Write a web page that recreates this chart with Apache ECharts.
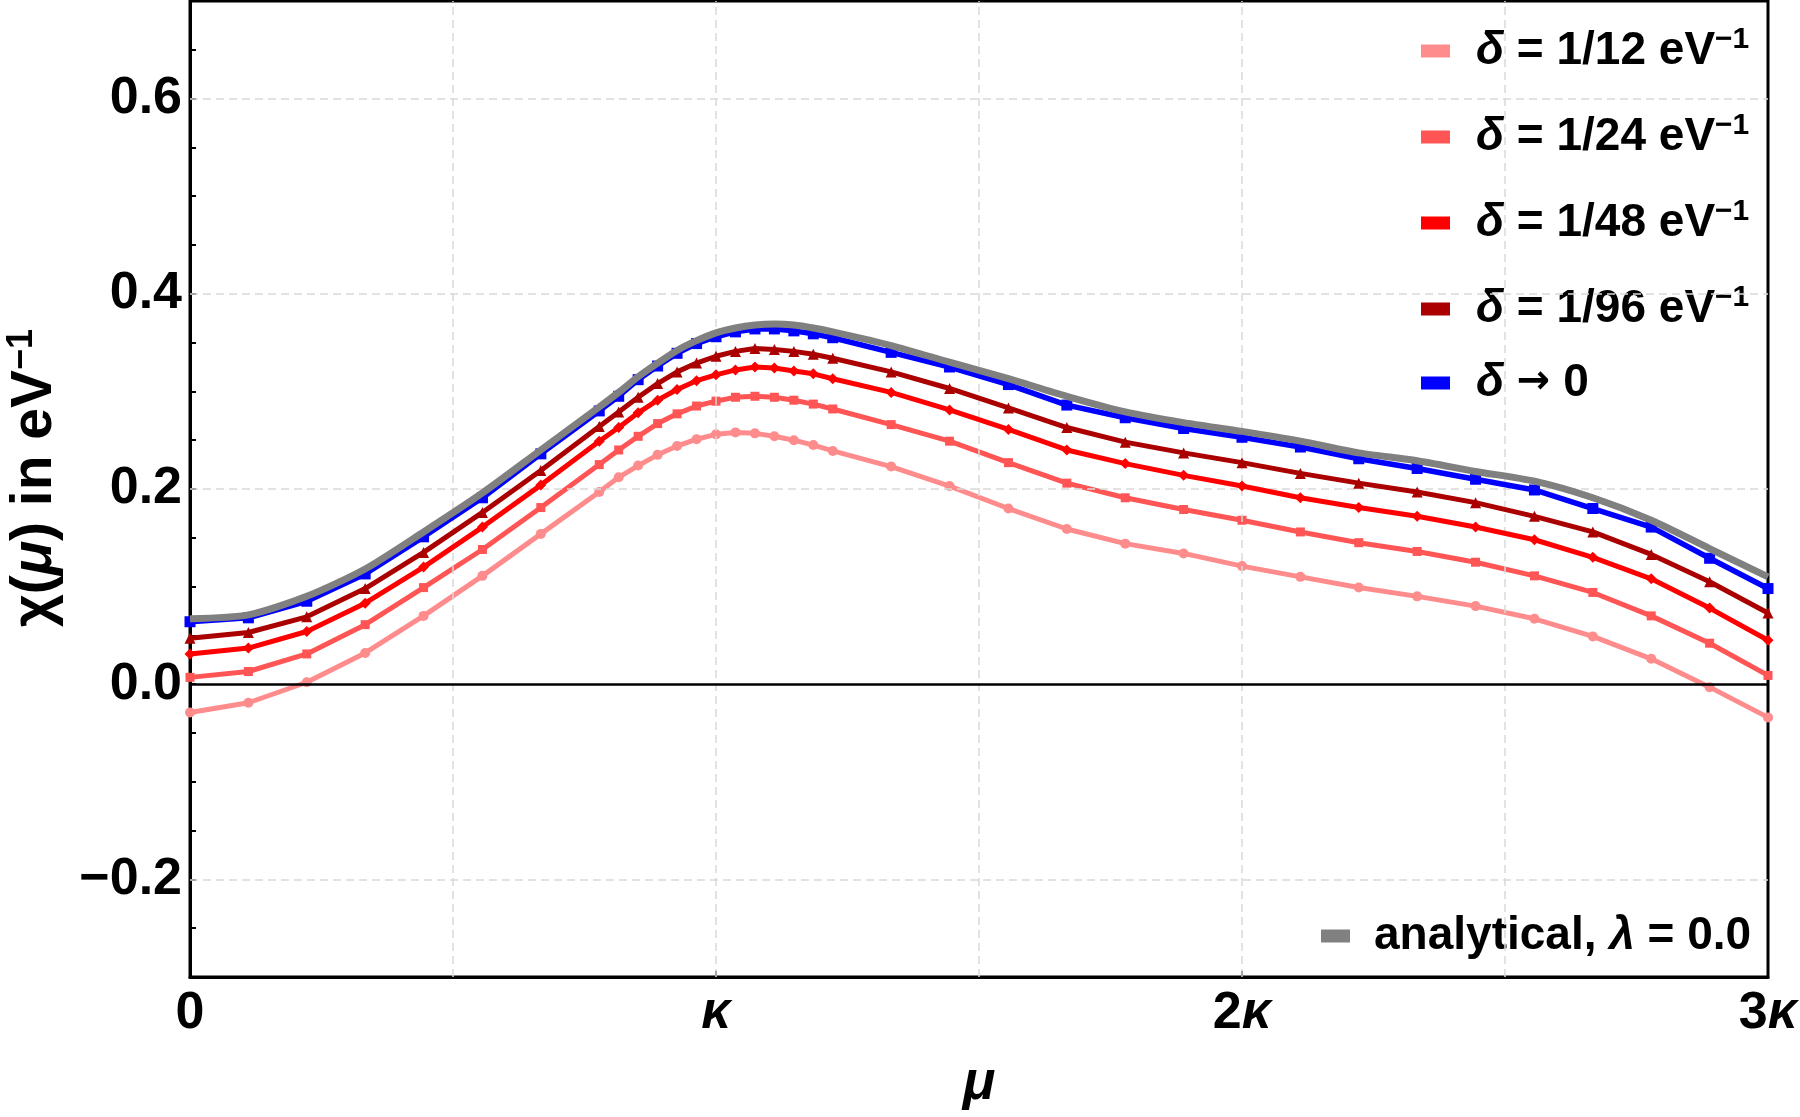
<!DOCTYPE html>
<html>
<head>
<meta charset="utf-8">
<title>chi(mu)</title>
<script src="https://cdn.jsdelivr.net/npm/echarts@6/dist/echarts.min.js"></script>
<style>
  html, body { margin: 0; padding: 0; background: #fff; }
  #chart { width: 1800px; height: 1117px; }
</style>
</head>
<body>
<div id="chart"></div>
<script>
// mu in units of kappa
var muValues = [0, 0.111, 0.222, 0.333, 0.444, 0.556, 0.667, 0.778,
  0.815, 0.852, 0.889, 0.926, 0.963, 1.0, 1.037, 1.074, 1.111, 1.148, 1.185, 1.222,
  1.333, 1.444, 1.556, 1.667, 1.778, 1.889, 2.0, 2.111, 2.222, 2.333, 2.444, 2.556,
  2.667, 2.778, 2.889, 3.0];

var chiDelta12 = [-0.029, -0.019, 0.002, 0.032, 0.070, 0.111, 0.154, 0.197,
  0.212, 0.224, 0.235, 0.244, 0.251, 0.256, 0.258, 0.257, 0.254, 0.250, 0.245, 0.239,
  0.223, 0.203, 0.180, 0.159, 0.144, 0.134, 0.121, 0.110, 0.099, 0.090, 0.080, 0.067,
  0.049, 0.026, -0.003, -0.034];

var chiDelta24 = [0.007, 0.013, 0.031, 0.061, 0.099, 0.138, 0.181, 0.225,
  0.240, 0.254, 0.267, 0.277, 0.285, 0.290, 0.294, 0.295, 0.294, 0.291, 0.287, 0.282,
  0.266, 0.249, 0.227, 0.206, 0.191, 0.179, 0.168, 0.156, 0.145, 0.136, 0.125, 0.111,
  0.094, 0.070, 0.042, 0.009];

var chiDelta48 = [0.031, 0.037, 0.054, 0.083, 0.120, 0.161, 0.204, 0.249,
  0.263, 0.278, 0.291, 0.302, 0.311, 0.317, 0.322, 0.325, 0.324, 0.321, 0.318, 0.313,
  0.299, 0.281, 0.261, 0.240, 0.226, 0.214, 0.203, 0.191, 0.181, 0.172, 0.161, 0.148,
  0.130, 0.108, 0.078, 0.045];

var chiDelta96 = [0.047, 0.053, 0.069, 0.098, 0.135, 0.176, 0.219, 0.264,
  0.279, 0.294, 0.308, 0.320, 0.329, 0.336, 0.341, 0.344, 0.343, 0.341, 0.338, 0.334,
  0.320, 0.303, 0.283, 0.263, 0.248, 0.237, 0.227, 0.216, 0.206, 0.197, 0.186, 0.172,
  0.156, 0.133, 0.105, 0.073];

var chiDelta0 = [0.064, 0.068, 0.085, 0.113, 0.151, 0.191, 0.236, 0.280,
  0.295, 0.312, 0.326, 0.339, 0.349, 0.356, 0.361, 0.364, 0.364, 0.362, 0.359, 0.355,
  0.340, 0.325, 0.307, 0.286, 0.273, 0.262, 0.253, 0.243, 0.231, 0.221, 0.210, 0.199,
  0.180, 0.161, 0.129, 0.098];

var chiAnalytical = [0.067, 0.071, 0.090, 0.118, 0.156, 0.196, 0.240, 0.284,
  0.299, 0.315, 0.329, 0.342, 0.352, 0.360, 0.365, 0.368, 0.369, 0.368, 0.365, 0.361,
  0.347, 0.330, 0.313, 0.295, 0.279, 0.268, 0.259, 0.249, 0.237, 0.229, 0.218, 0.208,
  0.191, 0.168, 0.139, 0.110];

var xGridValues = [0.5, 1, 1.5, 2, 2.5];
var yGridValues = [0.6, 0.4, 0.2, -0.2];

var FONT = '"Liberation Sans", Arial, sans-serif';

function pairs(ys) {
  return muValues.map(function (x, i) { return [x, ys[i]]; });
}

var legendText = {
  'd12': '{g| }{i|δ} = 1/12 eV{s|−1}',
  'd24': '{g| }{i|δ} = 1/24 eV{s|−1}',
  'd48': '{g| }{i|δ} = 1/48 eV{s|−1}',
  'd96': '{g| }{i|δ} = 1/96 eV{s|−1}',
  'd0': '{g| }{i|δ} {a|→} 0',
  'analytical': '{g3| }analytical, {i|λ} = 0.0'
};

var myChart = echarts.init(document.getElementById('chart'));

var gridLineStyle = { color: '#d9d9d9', width: 1.5, type: [8, 5] };
var markData = [];
for (var i = 0; i < yGridValues.length; i++) {
  markData.push({ yAxis: yGridValues[i], lineStyle: gridLineStyle });
}
for (var j = 0; j < xGridValues.length; j++) {
  markData.push({ xAxis: xGridValues[j], lineStyle: gridLineStyle });
}
markData.push({ yAxis: 0, lineStyle: { color: '#000', width: 2.5, type: 'solid' } });

function dataSeries(name, ys, color, symbol, size, width, z) {
  return {
    name: name,
    type: 'line',
    data: pairs(ys),
    z: z,
    symbol: symbol,
    symbolSize: size,
    showSymbol: true,
    lineStyle: { color: color, width: width },
    itemStyle: { color: color },
    emphasis: { disabled: true }
  };
}

var legendRich = {
  g: { width: 21 },
  i: { fontStyle: 'italic', fontWeight: 'bold', fontSize: 46, fontFamily: FONT, color: '#000' },
  s: { fontSize: 30, fontWeight: 'bold', fontFamily: FONT, color: '#000', verticalAlign: 'top', lineHeight: 22 },
  a: { fontWeight: 'bold', fontSize: 40, fontFamily: '"DejaVu Sans", sans-serif', color: '#000' },
  g3: { width: 19 }
};

function legendBlock(names, left, top) {
  return {
    orient: 'vertical',
    left: left, top: top, padding: 0,
    itemGap: 34, itemWidth: 29, itemHeight: 13,
    icon: 'rect',
    selectedMode: false,
    data: names,
    formatter: function (name) { return legendText[name]; },
    textStyle: { fontFamily: FONT, fontSize: 46, fontWeight: 'bold', color: '#000', lineHeight: 52, rich: legendRich }
  };
}

var option = {
  animation: false,
  backgroundColor: '#fff',
  grid: {
    left: 190, right: 32, top: 1, bottom: 140,
    show: true, borderColor: '#000', borderWidth: 3,
    containLabel: false, outerBoundsMode: 'none'
  },
  legend: [
    legendBlock(['d12', 'd24', 'd48', 'd96'], 1421, 25),
    legendBlock(['d0'], 1421, 357),
    legendBlock(['analytical'], 1321, 910)
  ],
  xAxis: {
    type: 'value',
    min: 0, max: 3, interval: 1,
    name: 'μ',
    nameLocation: 'middle',
    nameGap: 77,
    nameTextStyle: { fontFamily: FONT, fontSize: 54, fontWeight: 'bold', fontStyle: 'italic', color: '#000', lineHeight: 60 },
    axisLine: { onZero: false, lineStyle: { color: '#000', width: 3 } },
    axisTick: { inside: true, length: 6, lineStyle: { color: '#000', width: 2 } },
    splitLine: { show: false },
    axisLabel: {
      margin: 11,
      fontFamily: FONT, fontSize: 52, fontWeight: 'bold', color: '#000',
      formatter: function (v) {
        var r = Math.round(v);
        if (r === 0) return '0';
        return (r === 1 ? '' : r) + '{k|κ}';
      },
      rich: { k: { fontFamily: FONT, fontSize: 52, fontWeight: 'bold', fontStyle: 'italic', color: '#000' } }
    }
  },
  yAxis: {
    type: 'value',
    min: -0.3, max: 0.7, interval: 0.05,
    name: '{c|χ(}{m|μ}{c|) in eV}{s|−1}',
    nameLocation: 'middle',
    nameGap: 124,
    nameTextStyle: {
      padding: [0, 0, 0, 22],
      rich: {
        c: { fontFamily: FONT, fontSize: 57, fontWeight: 'bold', color: '#000', lineHeight: 62 },
        m: { fontFamily: FONT, fontSize: 57, fontWeight: 'bold', fontStyle: 'italic', color: '#000', lineHeight: 62 },
        s: { fontFamily: FONT, fontSize: 36, fontWeight: 'bold', color: '#000', verticalAlign: 'top', lineHeight: 27 }
      }
    },
    axisLine: { lineStyle: { color: '#000', width: 3 } },
    axisTick: { inside: true, length: 6, lineStyle: { color: '#000', width: 2 } },
    splitLine: { show: false },
    axisLabel: {
      margin: 8,
      fontFamily: FONT, fontSize: 52, fontWeight: 'bold', color: '#000',
      formatter: function (v) {
        var r = Math.round(v * 100);
        if (r % 20 !== 0) return '';
        var s = Math.abs(r / 100).toFixed(1);
        return r < 0 ? '\u2212' + s : s;
      }
    }
  },
  series: [
    {
      name: 'gridlines',
      type: 'line',
      data: [],
      z: 1,
      silent: true,
      markLine: { silent: true, symbol: 'none', label: { show: false }, animation: false, data: markData }
    },
    dataSeries('d12', chiDelta12, '#ff8c8c', 'circle', 10, 5, 3),
    dataSeries('d24', chiDelta24, '#ff5555', 'rect', 9, 5, 4),
    dataSeries('d48', chiDelta48, '#ff0000', 'diamond', 11, 5, 5),
    dataSeries('d96', chiDelta96, '#aa0000', 'triangle', 11, 5, 6),
    dataSeries('d0', chiDelta0, '#0000ff', 'rect', 11, 5.5, 7),
    {
      name: 'analytical',
      type: 'line',
      data: pairs(chiAnalytical),
      z: 8,
      smooth: 0.25,
      showSymbol: false,
      symbol: 'none',
      lineStyle: { color: '#808080', width: 7 },
      itemStyle: { color: '#808080' },
      emphasis: { disabled: true }
    }
  ]
};

myChart.setOption(option);
</script>
</body>
</html>
